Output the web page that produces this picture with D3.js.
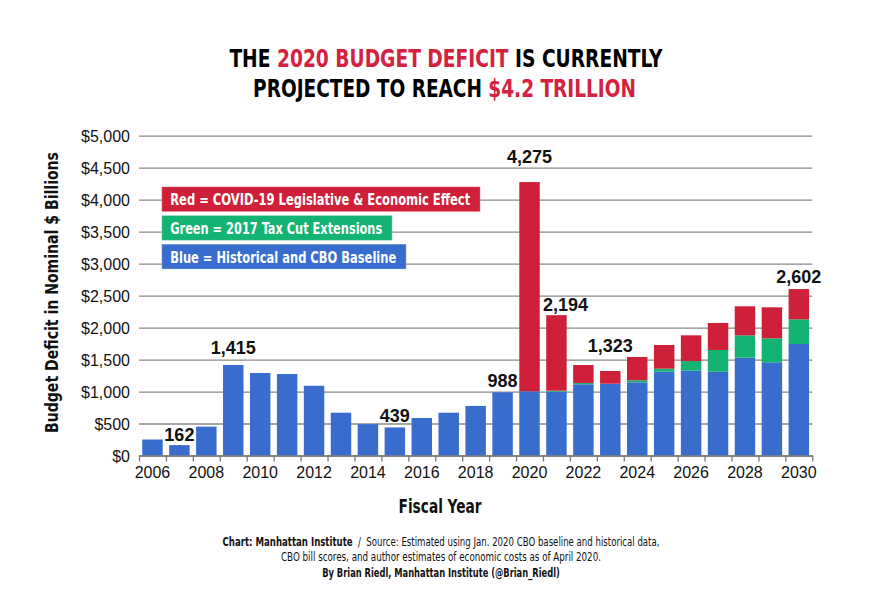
<!DOCTYPE html>
<html>
<head>
<meta charset="utf-8">
<script src="https://cdn.jsdelivr.net/npm/d3@7"></script>
<style>
  body { margin: 0; background: #fff; }
  svg { display: block; }
  .narrow { font-family: "Liberation Sans Narrow", "DejaVu Sans Condensed", "Arial Narrow", sans-serif; }
  .axis text { font-family: "Liberation Sans", Arial, sans-serif; font-size: 16px; fill: #111; }
</style>
</head>
<body>
<div id="chart"></div>
<script>
// fiscal years and deficit components, $ billions
var years = d3.range(2006, 2031);
var baseline = [250, 162, 452, 1415, 1290, 1274, 1090, 669, 490, 439, 586, 669, 775, 988,
                1004, 998, 1113, 1123, 1144, 1310, 1326, 1310, 1529, 1457, 1743];
var taxCut   = [0, 0, 0, 0, 0, 0, 0, 0, 0, 0, 0, 0, 0, 0,
                0, 15, 20, 0, 32, 47, 151, 340, 350, 375, 386];
var covid    = [0, 0, 0, 0, 0, 0, 0, 0, 0, 0, 0, 0, 0, 0,
                3271, 1181, 282, 198, 364, 371, 402, 422, 454, 485, 473];
var labelYears  = [2007, 2009, 2015, 2019, 2020, 2021, 2023, 2030];
var labelValues = [162, 1415, 439, 988, 4275, 2194, 1323, 2602];
var yTicks = d3.range(0, 5001, 500);
var legendItems = ["Red = COVID-19 Legislative & Economic Effect",
                   "Green = 2017 Tax Cut Extensions",
                   "Blue = Historical and CBO Baseline"];

var RED = "#cf2039", GREEN = "#13b374", BLUE = "#386dcd";

var W = 881, H = 611;
var svg = d3.select("#chart").append("svg").attr("width", W).attr("height", H);
svg.append("rect").attr("width", W).attr("height", H).attr("fill", "#fff");

var plotL = 139, plotR = 812.3, plotT = 135.7, plotB = 455.5;

var x = d3.scaleBand().domain(years).range([plotL, plotR]).paddingInner(0.24).paddingOuter(0.12);
var xEdge = d3.scaleLinear().domain([0, years.length]).range([plotL, plotR]);
var y = d3.scaleLinear().domain([0, 5000]).range([plotB, plotT]);

// squeeze a centred text horizontally to a given width
function fitWidth(sel, cx, cy, target) {
  var w = sel.node().getBBox().width;
  sel.attr("x", 0).attr("y", 0)
    .attr("transform", "translate(" + cx + "," + cy + ") scale(" + (target / w) + ",1)");
}

// gridlines + y labels
var yAxis = svg.append("g")
  .attr("class", "axis")
  .attr("transform", "translate(" + plotL + ",0)")
  .call(d3.axisLeft(y).tickValues(yTicks)
    .tickFormat(function(d) { return "$" + d3.format(",")(d); })
    .tickSize(-(plotR - plotL)).tickPadding(9));
yAxis.select(".domain").remove();
yAxis.selectAll(".tick line").attr("stroke", "#8a8a8a").attr("stroke-width", 1.3);
yAxis.selectAll(".tick text").attr("dy", "0.36em");

// stacked bars
var rows = years.map(function(yr, i) {
  return { year: yr, baseline: baseline[i], taxCut: taxCut[i], covid: covid[i] };
});
var stack = d3.stack().keys(["baseline", "taxCut", "covid"]);
var colors = { baseline: BLUE, taxCut: GREEN, covid: RED };

svg.append("g").selectAll("g")
  .data(stack(rows))
  .enter().append("g")
    .attr("fill", function(s) { return colors[s.key]; })
  .selectAll("rect")
  .data(function(s) { return s; })
  .enter().append("rect")
    .attr("x", function(d) { return x(d.data.year); })
    .attr("width", x.bandwidth())
    .attr("y", function(d) { return y(d[1]); })
    .attr("height", function(d) { return y(d[0]) - y(d[1]); });

// x axis: boundary ticks
var xTicks = svg.append("g")
  .attr("class", "axis")
  .attr("transform", "translate(0," + plotB + ")")
  .call(d3.axisBottom(xEdge).tickValues(d3.range(years.length + 1))
    .tickFormat("").tickSize(6).tickSizeOuter(0));
xTicks.selectAll("line, path").attr("stroke", "#777").attr("stroke-width", 1.3);

var xLabels = svg.append("g")
  .attr("class", "axis")
  .attr("transform", "translate(0," + plotB + ")")
  .call(d3.axisBottom(x).tickValues(years.filter(function(d) { return d % 2 === 0; }))
    .tickSize(0).tickPadding(11));
xLabels.select(".domain").remove();
xLabels.selectAll("text").attr("font-size", "16.5px");

// value labels above selected bars
var labelShift = { 2007: [0, 4], 2009: [0, 11], 2015: [0, 5], 2019: [0, 5.5],
                   2020: [0, 19], 2021: [9, 4], 2023: [0, 19], 2030: [0, 6] };
svg.append("g").selectAll("text")
  .data(labelYears)
  .enter().append("text")
    .attr("x", function(d) { return x(d) + x.bandwidth() / 2 + labelShift[d][0]; })
    .attr("y", function(d, i) { return y(labelValues[i]) - labelShift[d][1]; })
    .attr("text-anchor", "middle")
    .attr("font-family", "Liberation Sans, Arial, sans-serif")
    .attr("font-weight", "bold")
    .attr("font-size", "18px")
    .attr("fill", "#111")
    .text(function(d, i) { return d3.format(",")(labelValues[i]); });

// legend
var legendColors = [RED, GREEN, BLUE];
var legendLen = [300, 212, 226];
var lg = svg.append("g").selectAll("g")
  .data(legendItems)
  .enter().append("g")
    .attr("transform", function(d, i) { return "translate(161.7," + (186.7 + i * 28.7) + ")"; });
lg.append("rect")
  .attr("width", function(d, i) { return legendLen[i] + 18.5; })
  .attr("height", 25)
  .attr("fill", function(d, i) { return legendColors[i]; })
  .attr("stroke", "rgba(255,255,255,0.35)");
lg.append("text")
  .attr("class", "narrow")
  .attr("x", 8.5).attr("y", 18.5)
  .attr("font-size", "16px").attr("font-weight", "bold")
  .attr("fill", "#fff")
  .attr("textLength", function(d, i) { return legendLen[i]; })
  .attr("lengthAdjust", "spacingAndGlyphs")
  .text(function(d) { return d; });

// title
var t1 = svg.append("text").attr("class", "narrow")
  .attr("text-anchor", "middle")
  .attr("font-size", "24px").attr("font-weight", "bold");
t1.append("tspan").text("THE ");
t1.append("tspan").attr("fill", "#d22240").text("2020 BUDGET DEFICIT");
t1.append("tspan").text(" IS CURRENTLY");
fitWidth(t1, 446, 67.3, 434);
var t2 = svg.append("text").attr("class", "narrow")
  .attr("text-anchor", "middle")
  .attr("font-size", "24px").attr("font-weight", "bold");
t2.append("tspan").text("PROJECTED TO REACH ");
t2.append("tspan").attr("fill", "#d22240").text("$4.2 TRILLION");
fitWidth(t2, 444.5, 96.7, 383);

// axis titles
svg.append("text").attr("class", "narrow")
  .attr("transform", "translate(58,292.5) rotate(-90)")
  .attr("text-anchor", "middle")
  .attr("font-size", "18.5px").attr("font-weight", "bold").attr("fill", "#111")
  .attr("textLength", 281).attr("lengthAdjust", "spacingAndGlyphs")
  .text("Budget Deficit in Nominal $ Billions");

svg.append("text").attr("class", "narrow")
  .attr("x", 440).attr("y", 513).attr("text-anchor", "middle")
  .attr("font-size", "20px").attr("font-weight", "bold").attr("fill", "#111")
  .attr("textLength", 83).attr("lengthAdjust", "spacingAndGlyphs")
  .text("Fiscal Year");

// source note
var f1 = svg.append("text").attr("class", "narrow")
  .attr("text-anchor", "middle")
  .attr("font-size", "12.5px").attr("fill", "#111");
f1.append("tspan").attr("font-weight", "bold").text("Chart: Manhattan Institute");
f1.append("tspan").text("\u00a0\u00a0/\u00a0\u00a0Source: Estimated using Jan. 2020 CBO baseline and historical data,");
fitWidth(f1, 441, 546, 437.6);
svg.append("text").attr("class", "narrow")
  .attr("x", 441).attr("y", 561).attr("text-anchor", "middle")
  .attr("font-size", "12.5px").attr("fill", "#111")
  .attr("textLength", 320).attr("lengthAdjust", "spacingAndGlyphs")
  .text("CBO bill scores, and author estimates of economic costs as of April 2020.");
svg.append("text").attr("class", "narrow")
  .attr("x", 441).attr("y", 577).attr("text-anchor", "middle")
  .attr("font-size", "12.5px").attr("font-weight", "bold").attr("fill", "#111")
  .attr("textLength", 237.6).attr("lengthAdjust", "spacingAndGlyphs")
  .text("By Brian Riedl, Manhattan Institute (@Brian_Riedl)");
</script>
</body>
</html>
